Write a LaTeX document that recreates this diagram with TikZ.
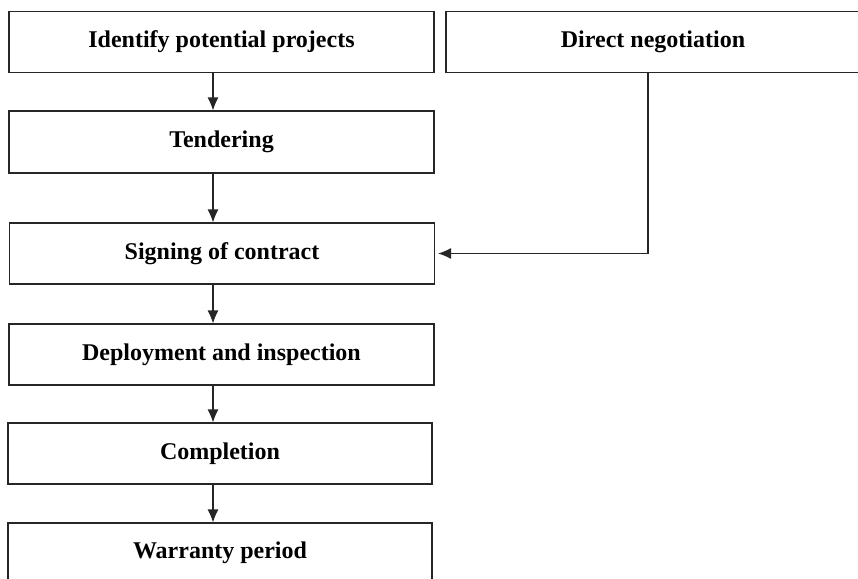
\documentclass[tikz,border=0pt]{standalone}
\usepackage{fontspec}
\setmainfont{Liberation Serif}
\usetikzlibrary{arrows.meta}
\begin{document}
\begin{tikzpicture}[x=1pt,y=-1pt,
  box/.style={draw=black!85,line width=1.1pt,minimum width=425pt,minimum height=61pt,inner sep=0pt,
    font=\bfseries\fontsize{24}{28}\selectfont},
  arr/.style={line width=1.1pt,draw=black!85,-{Latex[length=13pt,width=11pt]}}]
\useasboundingbox (0,0) rectangle (858,578);
\clip (0,0) rectangle (858,578);
\node[box] (idp) at (221.5,42) {Identify potential projects};
\node[box,minimum width=414pt] (dn) at (653,42) {Direct negotiation};
\node[box,minimum height=62pt] (ten) at (221.5,142) {Tendering};
\node[box] (sig) at (222,253.5) {Signing of contract};
\node[box] (dep) at (221.5,354.5) {Deployment and inspection};
\node[box,minimum width=424pt] (com) at (220,453.5) {Completion};
\node[box,minimum width=424pt,minimum height=60pt] (war) at (220,553) {Warranty period};
\coordinate (ax) at (213,0);
\coordinate (vx) at (648,0);
\draw[arr] (idp.south -| ax) -- (ten.north -| ax);
\draw[arr] (ten.south -| ax) -- (sig.north -| ax);
\draw[arr] (sig.south -| ax) -- (dep.north -| ax);
\draw[arr] (dep.south -| ax) -- (com.north -| ax);
\draw[arr] (com.south -| ax) -- (war.north -| ax);
\draw[arr,shorten >=3pt] (dn.south -| vx) |- (sig.east);
\end{tikzpicture}
\end{document}
